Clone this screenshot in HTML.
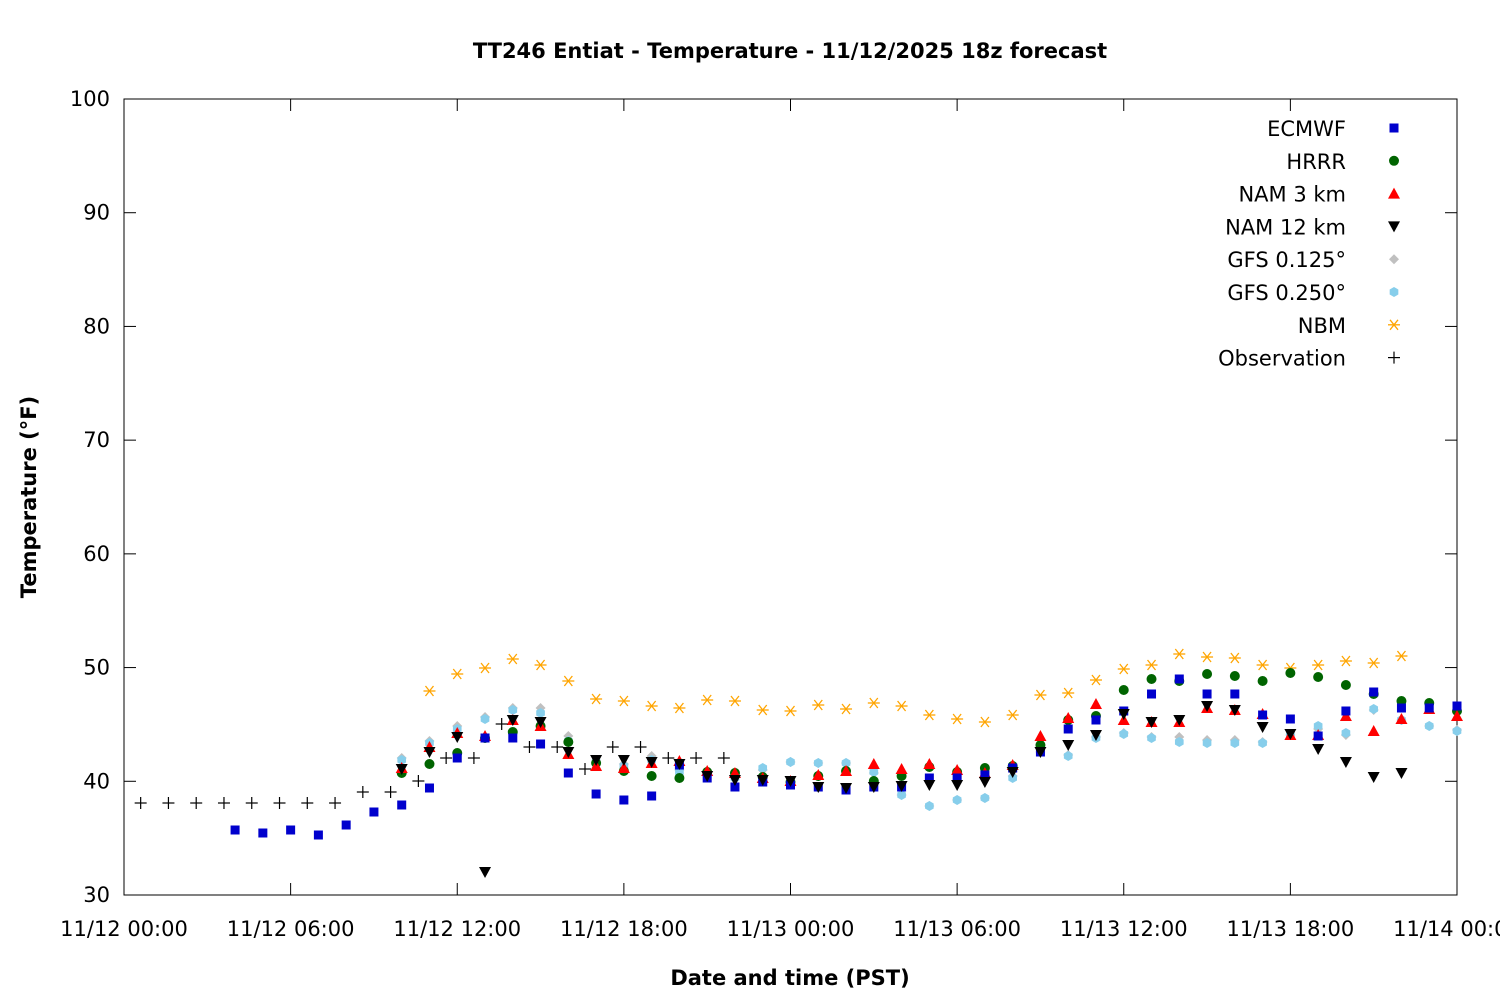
<!DOCTYPE html>
<html><head><meta charset="utf-8"><style>
html,body{margin:0;padding:0;background:#fff}
svg{display:block}
text{font-family:"DejaVu Sans","Liberation Sans",sans-serif}
</style></head><body>
<svg id="s" width="1500" height="1000" xmlns="http://www.w3.org/2000/svg">
<rect width="1500" height="1000" fill="#fff"/>
<text x="790" y="58" text-anchor="middle" font-size="21" font-weight="bold">TT246 Entiat - Temperature - 11/12/2025 18z forecast</text>
<text x="790" y="985" text-anchor="middle" font-size="21" font-weight="bold">Date and time (PST)</text>
<text transform="translate(36,497) rotate(-90)" text-anchor="middle" font-size="21" font-weight="bold">Temperature (°F)</text>
<rect x="124" y="99" width="1333" height="796" fill="none" stroke="#000" stroke-width="1"/>
<g id="ax" font-size="21"></g>
<g id="d"></g>
</svg>
<script>
const NS="http://www.w3.org/2000/svg",ax=document.getElementById('ax'),d=document.getElementById('d');
function el(p,t,a){const e=document.createElementNS(NS,t);for(const k in a)e.setAttribute(k,a[k]);p.appendChild(e);return e;}
for(let v=30;v<=100;v+=10){const y=895-(v-30)*796/70;
 el(ax,'line',{x1:124,x2:136,y1:y,y2:y,stroke:'#000'});el(ax,'line',{x1:1445,x2:1457,y1:y,y2:y,stroke:'#000'});
 el(ax,'text',{x:110,y:y+7,'text-anchor':'end'}).textContent=v;}
const xl=['11/12 00:00','11/12 06:00','11/12 12:00','11/12 18:00','11/13 00:00','11/13 06:00','11/13 12:00','11/13 18:00','11/14 00:00'];
xl.forEach((t,i)=>{const x=124+i*1333/8;
 el(ax,'line',{x1:x,x2:x,y1:883,y2:895,stroke:'#000'});el(ax,'line',{x1:x,x2:x,y1:99,y2:111,stroke:'#000'});
 el(ax,'text',{x:x,y:936,'text-anchor':'middle'}).textContent=t;});
function mk(type,x,y,c){
 if(type=='sq')el(d,'rect',{x:x-4.5,y:y-4.5,width:9,height:9,fill:c});
 else if(type=='ci')el(d,'circle',{cx:x,cy:y,r:5,fill:c});
 else if(type=='up')el(d,'polygon',{points:`${x},${y-6} ${x-6},${y+5} ${x+6},${y+5}`,fill:c});
 else if(type=='dn')el(d,'polygon',{points:`${x},${y+6} ${x-6},${y-5} ${x+6},${y-5}`,fill:c});
 else if(type=='di')el(d,'polygon',{points:`${x},${y-5} ${x+5},${y} ${x},${y+5} ${x-5},${y}`,fill:c});
 else if(type=='pe'){let p=[];for(let i=0;i<6;i++){const a=Math.PI/3*i+Math.PI/6;p.push((x+5*Math.cos(a))+','+(y+5*Math.sin(a)));}el(d,'polygon',{points:p.join(' '),fill:c});}
 else if(type=='st'){const g={stroke:c,'stroke-width':1.3};el(d,'line',{x1:x-6,x2:x+6,y1:y,y2:y,...g});el(d,'line',{x1:x-4,x2:x+4,y1:y-5,y2:y+5,...g});el(d,'line',{x1:x-4,x2:x+4,y1:y+5,y2:y-5,...g});}
 else if(type=='pl'){const g={stroke:c,'stroke-width':1.2};el(d,'line',{x1:x-6,x2:x+6,y1:y,y2:y,...g});el(d,'line',{x1:x,x2:x,y1:y-6,y2:y+6,...g});}
}
const X=h=>124+h*1333/48;
function ser(type,c,h0,ys){ys.forEach((y,i)=>{if(y!=null)mk(type,X(h0+i),y,c);});}
ser('st','#ffa500',11,[691,674,668,659,665,681,699,701,706,708,700,701,710,711,705,709,703,706,715,719,722,715,695,693,680,669,665,654,657,658,665,668,665,661,663,656]);
ser('di','#c0c0c0',10,[758,741,726,717,708,708,736,762,764,756,770,775,777,770,762,763,763,773,795,806,800,798,776,752,755,737,733,737,737,740,740,742,735,729,735,710,720,726,730]);
ser('pe','#87ceeb',10,[760,743,729,719,710,713,741,762,766,760,772,775,778,768,762,763,763,772,795,806,800,798,778,752,756,738,734,738,742,743,743,743,735,726,733,709,720,726,731]);
ser('ci','#006400',10,[773,764,753,738,732,726,742,763,771,776,778,772,773,777,782,776,771,781,776,767,772,768,766,745,720,716,690,679,681,674,676,681,673,677,685,694,701,703,711]);
ser('up','#ff0000',10,[768,747,733,736,720,726,754,766,768,763,761,771,773,778,781,775,771,764,769,764,770,773,765,736,718,704,720,722,722,708,710,714,735,735,716,731,719,709,716]);
ser('sq','#0000cd',4,[830,833,830,835,825,812,805,788,758,738,738,744,773,794,800,796,765,778,787,782,785,787,790,787,787,778,778,775,768,752,729,720,711,694,679,694,694,715,719,736,711,692,708,708,706]);
ser('dn','#000',10,[769,752,737,872,720,722,752,760,760,762,764,776,780,780,781,787,788,787,786,785,785,782,772,752,745,735,714,722,720,706,710,727,734,749,762,777,773]);
ser('pl','#000',0.6,[803,803,803,803,803,803,803,803,792,792,781,758,758,724,747,747,769,747,747,758,758,758]);
const L=[['ECMWF','sq','#0000cd'],['HRRR','ci','#006400'],['NAM 3 km','up','#ff0000'],['NAM 12 km','dn','#000'],['GFS 0.125°','di','#c0c0c0'],['GFS 0.250°','pe','#87ceeb'],['NBM','st','#ffa500'],['Observation','pl','#000']];
L.forEach((l,i)=>{const y=128+i*32.8;el(ax,'text',{x:1346,y:y+8,'text-anchor':'end'}).textContent=l[0];mk(l[1],1394,y,l[2]);});
</script>
</body></html>
